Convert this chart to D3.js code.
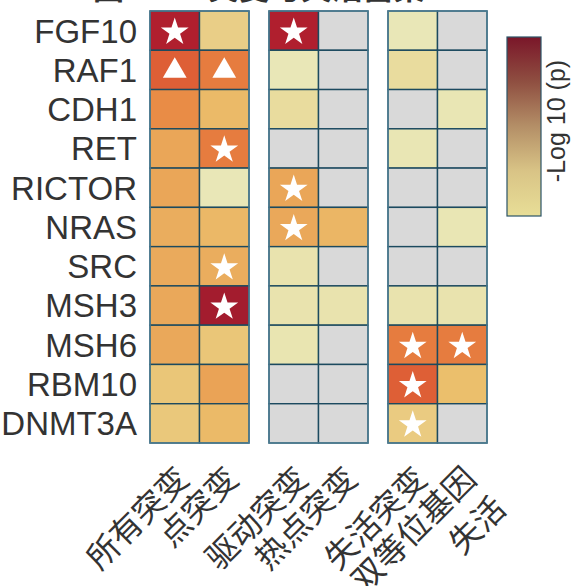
<!DOCTYPE html>
<html>
<head>
<meta charset="utf-8">
<script src="https://cdn.jsdelivr.net/npm/d3@7"></script>
<style>
  body { margin: 0; background: #fff; }
  svg { display: block; }
</style>
</head>
<body>
<svg id="chart" width="576" height="586"></svg>
<script>
// genes (rows) and mutation classes (columns)
var genes = ["FGF10", "RAF1", "CDH1", "RET", "RICTOR", "NRAS", "SRC", "MSH3", "MSH6", "RBM10", "DNMT3A"];
var columns = ["所有突变", "点突变", "驱动突变", "热点突变", "失活突变", "双等位基因\n失活"];
var groups = ["g1", "g1", "g2", "g2", "g3", "g3"];

// -log10(p), null = not tested
var pvals = [
  [9.0, 2.1, 9.0, null, 0.3, null],
  [6.5, 5.6, 0.3, null, 1.2, null],
  [5.1, 3.2, 1.2, null, null, 0.4],
  [4.1, 5.6, null, null, 0.4, null],
  [4.1, 0.3, 4.1, null, null, null],
  [3.8, 3.3, 4.0, 3.4, null, 0.4],
  [3.9, 3.8, 0.6, null, null, null],
  [4.0, 9.6, 0.6, 0.6, 0.6, 0.6],
  [4.0, 2.6, 0.5, null, 5.6, 5.6],
  [2.6, 4.2, null, null, 6.5, 3.0],
  [2.5, 3.2, null, null, 2.3, null]
];

// s = star, t = triangle
var marks = [
  ["s", "", "s", "", "", ""],
  ["t", "t", "", "", "", ""],
  ["", "", "", "", "", ""],
  ["", "s", "", "", "", ""],
  ["", "", "s", "", "", ""],
  ["", "", "s", "", "", ""],
  ["", "s", "", "", "", ""],
  ["", "s", "", "", "", ""],
  ["", "", "", "", "s", "s"],
  ["", "", "", "", "s", ""],
  ["", "", "", "", "s", ""]
];

var title = "图一——突变与失活富集";
var cbarLabel = "-Log 10 (p)";

var svg = d3.select("#chart");

var color = d3.scaleLinear()
  .domain([0, 1, 2, 3, 4, 5, 6, 7, 8, 9, 10])
  .range(["#e9eabf", "#e9dfa3", "#e9d08a", "#ebbf6c", "#eaa85a", "#e98f47",
          "#e4703a", "#d84d32", "#c22f2f", "#b01f2e", "#9a1a2e"])
  .clamp(true);

var gx = d3.scaleBand().domain(["g1", "g2", "g3"]).range([150, 487]).paddingInner(0.168);
var sub = d3.scaleBand().domain([0, 1]).range([0, gx.bandwidth()]);
var y = d3.scaleBand().domain(genes).range([11, 443]);

function colX(j) { return gx(groups[j]) + sub(j % 2); }

// title (cropped at top in original)
svg.append("text")
  .attr("x", 259).attr("y", -1)
  .attr("text-anchor", "middle")
  .style("font-family", "'Noto Sans CJK SC'")
  .style("font-size", "31px")
  .style("font-weight", "bold")
  .style("fill", "#333")
  .text(title);

var cells = [];
pvals.forEach(function(row, i) {
  row.forEach(function(v, j) {
    cells.push({gene: genes[i], col: j, v: v, m: marks[i][j]});
  });
});

svg.append("g").selectAll("rect")
  .data(cells)
  .enter().append("rect")
    .attr("x", function(d) { return colX(d.col); })
    .attr("y", function(d) { return y(d.gene); })
    .attr("width", sub.bandwidth())
    .attr("height", y.bandwidth())
    .style("fill", function(d) { return d.v == null ? "#d9d9d9" : color(d.v); })
    .style("stroke", "#1c4a5f")
    .style("stroke-width", 1.4);

// outer frame of each group
svg.append("g").selectAll("rect")
  .data(["g1", "g2", "g3"])
  .enter().append("rect")
    .attr("x", function(d) { return gx(d); })
    .attr("y", y.range()[0])
    .attr("width", gx.bandwidth())
    .attr("height", y.range()[1] - y.range()[0])
    .style("fill", "none")
    .style("stroke", "#4f7f95")
    .style("stroke-width", 1.4);

var star = d3.symbol().type(d3.symbolStar).size(240);
var tri = d3.symbol().type(d3.symbolTriangle).size(245);

svg.append("g").selectAll("path")
  .data(cells.filter(function(d) { return d.m; }))
  .enter().append("path")
    .attr("transform", function(d) {
      return "translate(" + (colX(d.col) + sub.bandwidth() / 2) + "," + (y(d.gene) + y.bandwidth() / 2 + (d.m == "s" ? 1.5 : 1)) + ")";
    })
    .attr("d", function(d) { return d.m == "s" ? star() : tri(); })
    .style("fill", "#fff");

// row labels
svg.append("g").selectAll("text")
  .data(genes)
  .enter().append("text")
    .attr("x", 137)
    .attr("y", function(d) { return y(d) + y.bandwidth() / 2; })
    .attr("dy", "0.36em")
    .attr("text-anchor", "end")
    .style("font-family", "'Liberation Sans', Arial, sans-serif")
    .style("font-size", "33px")
    .style("fill", "#333")
    .text(function(d) { return d; });

// column labels, rotated
var xl = svg.append("g").selectAll("g")
  .data(columns)
  .enter().append("g")
    .attr("transform", function(d, j) {
      return "translate(" + (colX(j) + sub.bandwidth() / 2 + 8) + ",473) rotate(-45)";
    });

xl.selectAll("text")
  .data(function(d) { return d.split("\n"); })
  .enter().append("text")
    .attr("x", 0)
    .attr("y", function(d, i) { return i * 42; })
    .attr("dy", "0.35em")
    .attr("text-anchor", "end")
    .style("font-family", "'Noto Sans CJK SC'")
    .style("font-size", "32px")
    .style("fill", "#333")
    .text(function(d) { return d; });

// colour bar
var defs = svg.append("defs");
var grad = defs.append("linearGradient")
  .attr("id", "cbar").attr("x1", 0).attr("y1", 1).attr("x2", 0).attr("y2", 0);
var cbStops = ["#e8de97", "#d9c486", "#b48f67", "#8f4f41", "#7a1629"];
grad.selectAll("stop")
  .data(cbStops)
  .enter().append("stop")
    .attr("offset", function(d, i) { return i / (cbStops.length - 1); })
    .attr("stop-color", function(d) { return d; });

svg.append("rect")
  .attr("x", 507).attr("y", 37)
  .attr("width", 34).attr("height", 179)
  .style("fill", "url(#cbar)")
  .style("stroke", "#2b5468")
  .style("stroke-width", 1.2);

svg.append("text")
  .attr("transform", "translate(556,121) rotate(-90)")
  .attr("dy", "0.35em")
  .attr("text-anchor", "middle")
  .style("font-family", "'Liberation Sans', Arial, sans-serif")
  .style("font-size", "25px")
  .style("fill", "#333")
  .text(cbarLabel);
</script>
</body>
</html>
